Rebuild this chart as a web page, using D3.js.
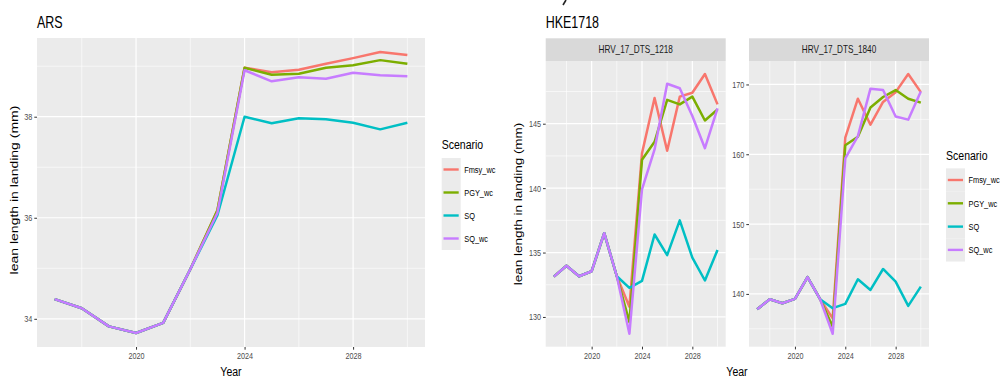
<!DOCTYPE html>
<html>
<head>
<meta charset="utf-8">
<script src="https://cdn.jsdelivr.net/npm/d3@7"></script>
<style>
  body { margin: 0; background: #fff; }
  svg { display: block; font-family: "Liberation Sans", Arial, sans-serif; }
</style>
</head>
<body>
<div id="chart"></div>
<script>
// ---- data ----
var years = [2017, 2018, 2019, 2020, 2021, 2022, 2023, 2024, 2025, 2026, 2027, 2028, 2029, 2030];
var scenarios = ["Fmsy_wc", "PGY_wc", "SQ", "SQ_wc"];
var colors = ["#F8766D", "#7CAE00", "#00BFC4", "#C77CFF"];
var xTicks = [2020, 2024, 2028];

// ARS
var arsFmsy = [34.39, 34.21, 33.85, 33.72, 33.92, 34.98, 36.15, 38.97, 38.88, 38.93, 39.05, 39.16, 39.28, 39.22];
var arsPGY  = [34.39, 34.21, 33.85, 33.72, 33.92, 34.98, 36.15, 38.97, 38.83, 38.85, 38.97, 39.02, 39.12, 39.05];
var arsSQ   = [34.39, 34.21, 33.85, 33.72, 33.92, 34.98, 36.05, 38.00, 37.87, 37.97, 37.95, 37.88, 37.75, 37.88];
var arsSQwc = [34.39, 34.21, 33.85, 33.72, 33.92, 34.98, 36.10, 38.92, 38.70, 38.78, 38.75, 38.87, 38.82, 38.80];
var arsTicks = [34, 36, 38];

// HKE1718 - HRV_17_DTS_1218
var h1218Fmsy = [133.13, 133.98, 133.16, 133.55, 136.5, 133.16, 130.8, 142.7, 147.0, 142.9, 147.1, 147.4, 148.86, 146.5];
var h1218PGY  = [133.13, 133.98, 133.16, 133.55, 136.5, 133.16, 129.6, 142.2, 143.6, 146.85, 146.5, 147.1, 145.25, 146.1];
var h1218SQ   = [133.13, 133.98, 133.16, 133.55, 136.5, 133.16, 132.26, 132.8, 136.4, 134.8, 137.5, 134.6, 132.83, 135.2];
var h1218SQwc = [133.13, 133.98, 133.16, 133.55, 136.5, 133.16, 128.7, 139.9, 143.0, 148.1, 147.75, 145.6, 143.1, 146.2];
var h1218Ticks = [130, 135, 140, 145];

// HKE1718 - HRV_17_DTS_1840
var h1840Fmsy = [137.8, 139.24, 138.67, 139.29, 142.4, 139.24, 136.5, 162.4, 167.96, 164.24, 167.5, 168.9, 171.5, 168.9];
var h1840PGY  = [137.8, 139.24, 138.67, 139.29, 142.4, 139.24, 135.3, 161.3, 162.5, 166.7, 168.2, 169.2, 167.96, 167.4];
var h1840SQ   = [137.8, 139.24, 138.67, 139.29, 142.4, 139.24, 137.96, 138.57, 142.1, 140.57, 143.57, 141.76, 138.29, 141.05];
var h1840SQwc = [137.8, 139.24, 138.67, 139.29, 142.4, 139.24, 134.3, 159.4, 162.6, 169.4, 169.2, 165.4, 164.96, 169.0];
var h1840Ticks = [140, 150, 160, 170];

// the source picture is squashed horizontally
var SX = 0.78;

var svg = d3.select("#chart").append("svg")
    .attr("width", 1002)
    .attr("height", 379);

function txt(parent, x, y, str, size, anchor, fill) {
  return parent.append("text")
      .attr("transform", "translate(" + x + "," + y + ") scale(" + SX + ",1)")
      .attr("text-anchor", anchor || "start")
      .attr("font-size", size)
      .attr("fill", fill || "#000")
      .text(str);
}

function vtxt(parent, x, y, str, size) {
  return parent.append("text")
      .attr("transform", "translate(" + x + "," + y + ") rotate(-90) scale(1," + SX + ")")
      .attr("text-anchor", "middle")
      .attr("font-size", size)
      .attr("fill", "#000")
      .text(str);
}

function expand(ext) {
  var pad = (ext[1] - ext[0]) * 0.05;
  return [ext[0] - pad, ext[1] + pad];
}

function drawPanel(p) {
  var x = d3.scaleLinear().domain(expand(d3.extent(years))).range([p.left, p.right]);
  var all = d3.merge(p.series);
  var y = d3.scaleLinear().domain(expand(d3.extent(all))).range([p.bottom, p.top]);

  var g = svg.append("g");
  g.append("rect")
      .attr("x", p.left).attr("y", p.top)
      .attr("width", p.right - p.left).attr("height", p.bottom - p.top)
      .attr("fill", "#EBEBEB");

  // minor grid
  var xMinor = xTicks.map(function(d) { return d - 2; }).concat([xTicks[xTicks.length - 1] + 2]);
  var step = p.yTicks[1] - p.yTicks[0];
  var yMinor = [p.yTicks[0] - step / 2].concat(p.yTicks.map(function(d) { return d + step / 2; }));
  g.selectAll(".xmin").data(xMinor.filter(function(d) { return x(d) > p.left && x(d) < p.right; }))
    .enter().append("line")
      .attr("x1", x).attr("x2", x).attr("y1", p.top).attr("y2", p.bottom)
      .attr("stroke", "#fff").attr("stroke-width", 0.6);
  g.selectAll(".ymin").data(yMinor.filter(function(d) { return y(d) > p.top && y(d) < p.bottom; }))
    .enter().append("line")
      .attr("y1", y).attr("y2", y).attr("x1", p.left).attr("x2", p.right)
      .attr("stroke", "#fff").attr("stroke-width", 0.6);
  // major grid
  g.selectAll(".xmaj").data(xTicks).enter().append("line")
      .attr("x1", x).attr("x2", x).attr("y1", p.top).attr("y2", p.bottom)
      .attr("stroke", "#fff").attr("stroke-width", 1.2);
  g.selectAll(".ymaj").data(p.yTicks).enter().append("line")
      .attr("y1", y).attr("y2", y).attr("x1", p.left).attr("x2", p.right)
      .attr("stroke", "#fff").attr("stroke-width", 1.2);

  var line = d3.line()
      .x(function(d, i) { return x(years[i]); })
      .y(function(d) { return y(d); });

  g.selectAll(".series").data(p.series).enter().append("path")
      .attr("d", line)
      .attr("fill", "none")
      .attr("stroke", function(d, i) { return colors[i]; })
      .attr("stroke-width", 2.5)
      .attr("stroke-linejoin", "round");

  // axes
  var ax = g.append("g")
      .attr("transform", "translate(0," + p.bottom + ")")
      .call(d3.axisBottom(x).tickValues(xTicks).tickSize(2.7).tickPadding(3).tickFormat(d3.format("d")));
  var ay = g.append("g")
      .attr("transform", "translate(" + p.left + ",0)")
      .call(d3.axisLeft(y).tickValues(p.yTicks).tickSize(2.7).tickPadding(2).tickFormat(d3.format("d")));
  [ax, ay].forEach(function(a) {
    a.select(".domain").remove();
    a.selectAll(".tick line").attr("stroke", "#333").attr("stroke-width", 1);
    a.selectAll(".tick text")
        .attr("fill", "#4d4d4d")
        .attr("font-size", 9.3)
        .attr("font-family", "Liberation Sans, Arial, sans-serif");
  });
  ay.selectAll(".tick text")
      .attr("x", -4.7 / SX)
      .attr("transform", "scale(" + SX + ",1)");
  ax.selectAll(".tick text")
      .attr("transform", "scale(" + SX + ",1)");

  if (p.strip) {
    g.append("rect")
        .attr("x", p.left).attr("y", p.stripTop)
        .attr("width", p.right - p.left).attr("height", p.top - p.stripTop)
        .attr("fill", "#D9D9D9");
    txt(g, (p.left + p.right) / 2, (p.top + p.stripTop) / 2 + 3.7, p.strip, 10.5, "middle", "#1a1a1a");
  }
}

function drawLegend(x, titleY, firstY, gap) {
  var g = svg.append("g");
  txt(g, x, titleY, "Scenario", 13.5);
  var items = g.selectAll(".key").data(scenarios).enter().append("g")
      .attr("transform", function(d, i) { return "translate(" + x + "," + (firstY + i * gap) + ")"; });
  items.append("rect")
      .attr("x", 0).attr("y", -gap / 2)
      .attr("width", 19).attr("height", gap)
      .attr("fill", "#EBEBEB");
  items.append("line")
      .attr("x1", 1.8).attr("x2", 17).attr("y1", 0).attr("y2", 0)
      .attr("stroke", function(d, i) { return colors[i]; })
      .attr("stroke-width", 2.4);
  items.each(function(d) {
    txt(d3.select(this), 22.5, 3.3, d, 9.5);
  });
}

// ---- left figure: ARS ----
txt(svg, 37, 28, "ARS", 16);
drawPanel({
  left: 37, right: 425, top: 38, bottom: 347,
  series: [arsFmsy, arsPGY, arsSQ, arsSQwc],
  yTicks: arsTicks
});
txt(svg, 231, 375.5, "Year", 13.5, "middle");
vtxt(svg, 18, 190, "lean length in landing (mm)", 14);
drawLegend(441.7, 148.5, 169.5, 23);

// ---- right figure: HKE1718 ----
// tail of a cut-off glyph above the figure
svg.append("path")
    .attr("d", "M566,0 L563,5")
    .attr("stroke", "#222").attr("stroke-width", 1.6).attr("fill", "none");
txt(svg, 545.7, 28, "HKE1718", 16);
drawPanel({
  left: 545.7, right: 725.7, top: 61, bottom: 346.7, stripTop: 38.3,
  series: [h1218Fmsy, h1218PGY, h1218SQ, h1218SQwc],
  yTicks: h1218Ticks, strip: "HRV_17_DTS_1218"
});
drawPanel({
  left: 749, right: 929, top: 61, bottom: 346.7, stripTop: 38.3,
  series: [h1840Fmsy, h1840PGY, h1840SQ, h1840SQwc],
  yTicks: h1840Ticks, strip: "HRV_17_DTS_1840"
});
txt(svg, 737, 375.5, "Year", 13.5, "middle");
vtxt(svg, 522, 204, "lean length in landing (mm)", 13.5);
drawLegend(946, 160, 180, 23.3);
</script>
</body>
</html>
